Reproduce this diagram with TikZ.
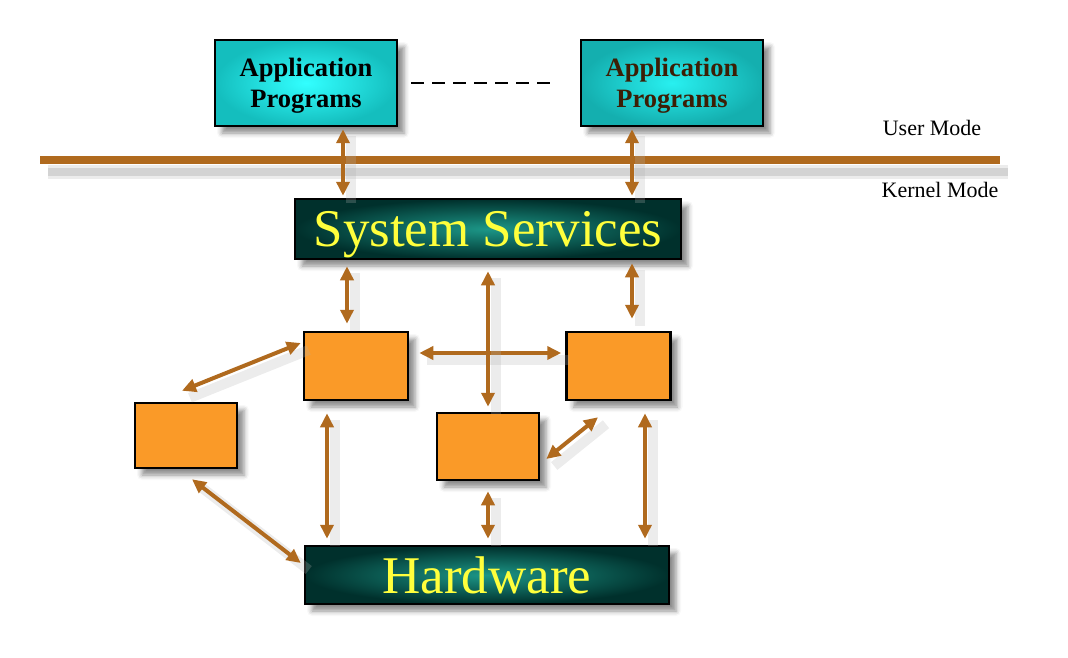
\documentclass[tikz,border=0pt]{standalone}
\usepackage{fontspec}
\setmainfont{Liberation Serif}
\usetikzlibrary{arrows.meta,shadows.blur,calc}

\definecolor{barbrown}{RGB}{176,106,30}
\definecolor{cyanin}{RGB}{50,255,255}
\definecolor{cyanout}{RGB}{20,190,190}
\definecolor{cyanin2}{RGB}{40,240,240}
\definecolor{cyanout2}{RGB}{20,175,175}
\definecolor{tealin}{RGB}{28,150,135}
\definecolor{tealout}{RGB}{0,48,44}
\definecolor{modorange}{RGB}{250,154,40}
\definecolor{svcyellow}{RGB}{255,255,60}
\definecolor{appbrown}{RGB}{60,30,5}

\tikzset{
  boxshadow/.style={blur shadow={shadow xshift=7pt,shadow yshift=-7pt,shadow blur radius=5pt,shadow opacity=45}},
  appbox/.style={draw=black,line width=2.5pt,minimum width=182pt,minimum height=86pt,
    align=center,text depth=0pt,font=\bfseries\fontsize{26.5}{31}\selectfont,boxshadow},
  svcbox/.style={draw=black,line width=2.5pt,inner color=tealin,outer color=tealout,
    text=svcyellow,text depth=0pt,font=\fontsize{53}{60}\selectfont,boxshadow},
  modbox/.style={draw=black,line width=2.5pt,fill=modorange,minimum width=104pt,
    minimum height=68pt,boxshadow},
  modelabel/.style={font=\fontsize{22}{26}\selectfont},
  arr/.style={{Triangle[length=14pt,width=13pt]}-{Triangle[length=14pt,width=13pt]},
    line width=4pt,draw=barbrown,fill=barbrown,
    preaction={draw=black!30,opacity=0.25,line width=10pt,arrows=-,
      transform canvas={xshift=8pt,yshift=-7pt}}},
}

\begin{document}
\begin{tikzpicture}[x=1pt,y=-1pt]
\useasboundingbox (0,0) rectangle (1068,658);

% user programs
\node[appbox,inner color=cyanin,outer color=cyanout] (app1) at (306,83) {Application\\Programs};
\node[appbox,inner color=cyanin2,outer color=cyanout2,text=appbrown] (app2) at (672,83) {Application\\Programs};
\draw[line width=2pt,dash pattern=on 13pt off 8pt,shorten <=13pt,shorten >=26pt] (app1.east) -- (app2.west);

% mode boundary
\coordinate (barL) at (40,160);
\coordinate (barR) at (1000,160);
\draw[line width=14pt,draw=black!30,opacity=0.25,transform canvas={xshift=8pt,yshift=-12pt}] (barL) -- (barR);
\draw[line width=8pt,draw=black!35,opacity=0.35,transform canvas={xshift=8pt,yshift=-12pt}] (barL) -- (barR);
\draw[line width=8pt,draw=barbrown] (barL) -- (barR);
\node[modelabel] (user) at (932,128) {User Mode};
\node[modelabel] (kernel) at (940,190) {Kernel Mode};

% kernel
\node[svcbox,minimum width=386pt,minimum height=60pt] (svc) at (488,229) {System Services};
\node[modbox] (b1) at (356,366) {};
\node[modbox] (b2) at (618.5,366) {};
\node[modbox,minimum width=102pt,minimum height=65pt] (b3) at (186,435.5) {};
\node[modbox,minimum width=102pt,minimum height=67pt] (b4) at (488,446.5) {};
\node[svcbox,minimum width=364pt,minimum height=58pt] (hw) at (487,575) {Hardware};

% connections
\draw[arr,shorten <=2pt,shorten >=2pt] ([xshift=37pt]app1.south) -- ([xshift=37pt]app1.south |- svc.north);
\draw[arr,shorten <=2pt,shorten >=2pt] ([xshift=-40pt]app2.south) -- ([xshift=-40pt]app2.south |- svc.north);
\draw[arr,shorten <=6pt,shorten >=7pt] ([xshift=-9pt]b1.north |- svc.south) -- ([xshift=-9pt]b1.north);
\draw[arr,shorten <=3pt,shorten >=12pt] ([xshift=13.5pt]b2.north |- svc.south) -- ([xshift=13.5pt]b2.north);
\draw[arr,shorten <=10pt,shorten >=4pt] ([yshift=13pt]b1.east) -- ([yshift=13pt]b1.east -| b2.west);
\draw[arr,shorten <=11pt,shorten >=5pt] (svc.south) -- (b4.north);
\draw[arr] ([xshift=-2pt,yshift=23pt]b1.west) -- ([xshift=-4pt,yshift=11pt]b3.north);
\draw[arr] ([xshift=6pt,yshift=-12.5pt]b4.east) -- ([xshift=-20.5pt,yshift=-16pt]b2.south);
\draw[arr,shorten <=12pt,shorten >=6pt] ([xshift=-29pt]b1.south) -- ([xshift=-29pt]b1.south |- hw.north);
\draw[arr] ([xshift=6pt,yshift=-10pt]b3.south) -- ([xshift=-3pt,yshift=12pt]hw.west);
\draw[arr,shorten <=10pt,shorten >=6pt] (b4.south) -- (b4.south |- hw.north);
\draw[arr,shorten <=12pt,shorten >=6pt] ([xshift=26.5pt]b2.south) -- ([xshift=26.5pt]b2.south |- hw.north);
\end{tikzpicture}
\end{document}
